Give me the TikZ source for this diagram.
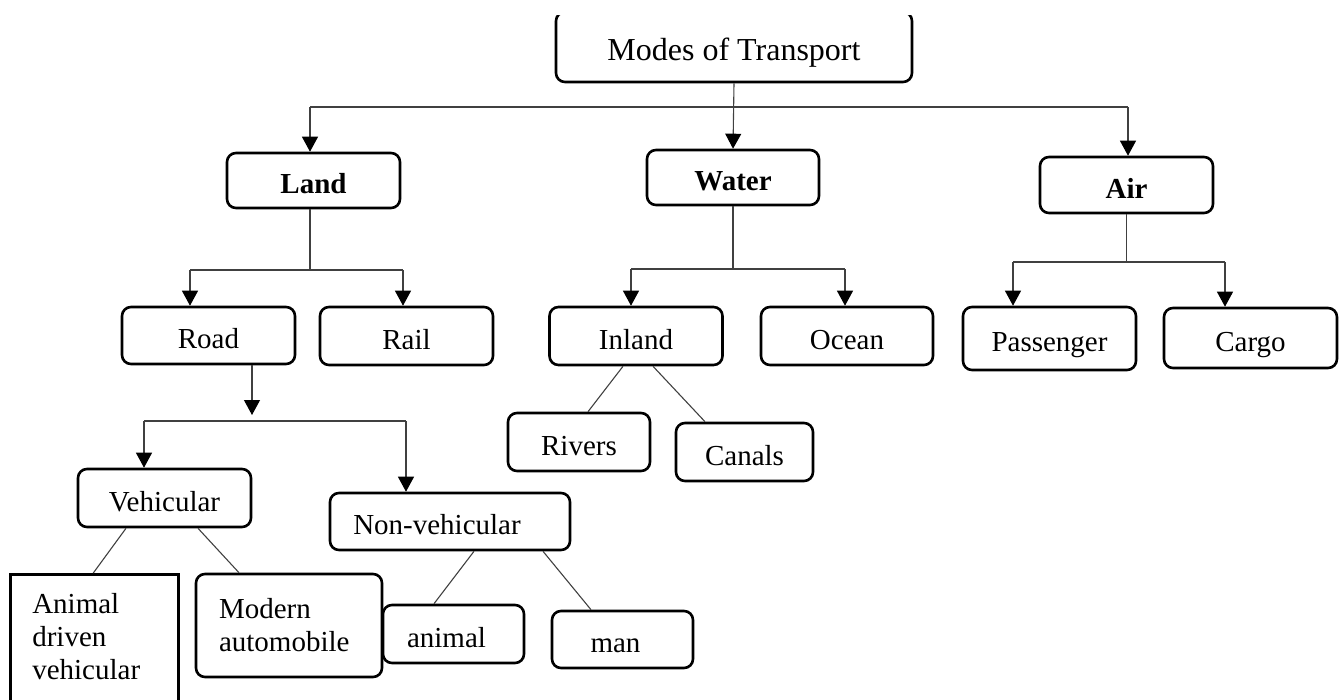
\documentclass[tikz,border=0pt]{standalone}
\usepackage{fontspec}
\setmainfont{Liberation Serif}
\usetikzlibrary{arrows.meta}
\tikzset{
  frame/.style={draw, line width=2.6pt, rounded corners=9pt, inner sep=0pt, font=\fontsize{29}{33}\selectfont},
  box/.style={frame, text height=26pt, text depth=0pt},
  hd/.style={box, font=\fontsize{29}{33}\selectfont\bfseries},
  ln/.style={line width=1.1pt, draw=black!75},
  arr/.style={ln, -{Triangle[width=16pt,length=15pt,color=black]}}
}

\begin{document}
\begin{tikzpicture}[x=1pt, y=-1pt]
        \useasboundingbox (0, 0) rectangle (1341, 699);
        \clip (0, 15) rectangle (1341, 699);
        \node [box, minimum width=356pt, minimum height=70pt, font=\fontsize{32}{37}\selectfont] (MT) at (734, 47) {Modes of Transport};
        \node [hd, minimum width=173pt, minimum height=55pt] (LD) at (313.5, 180.5) {Land};
        \node [hd, minimum width=172pt, minimum height=55pt] (WT) at (733, 177.5) {Water};
        \node [hd, minimum width=173pt, minimum height=56pt] (AR) at (1126.5, 185) {Air};
        \node [box, minimum width=173pt, minimum height=57pt] (RD) at (208.5, 335.5) {Road};
        \node [box, minimum width=173pt, minimum height=58pt] (RL) at (406.5, 336) {Rail};
        \node [box, minimum width=173pt, minimum height=58pt] (IN) at (636, 336) {Inland};
        \node [box, minimum width=172pt, minimum height=58pt] (OC) at (847, 336) {Ocean};
        \node [box, minimum width=173pt, minimum height=63pt] (PS) at (1049.5, 338.5) {Passenger};
        \node [box, minimum width=173pt, minimum height=60pt] (CG) at (1250.5, 338) {Cargo};
        \node [box, minimum width=142pt, minimum height=58pt] (RV) at (579, 442) {Rivers};
        \node [box, minimum width=137pt, minimum height=58pt] (CN) at (744.5, 452) {Canals};
        \node [box, minimum width=173pt, minimum height=58pt] (VH) at (164.5, 498) {Vehicular};
        \node [box, minimum width=240pt, minimum height=57pt] (NV) at (450, 521.5) {Non-vehicular\kern26pt};
        \node [frame, rounded corners=0pt, anchor=north west, align=left, text width=124pt, inner xsep=22pt, inner ysep=19pt] (AD) at (9, 573) {Animal\\driven\\vehicular\\ \rule{0pt}{40pt}};
        \node [frame, minimum width=186pt, minimum height=103pt, align=left, text width=140pt] (MA) at (289, 625.5) {Modern\\automobile};
        \node [box, minimum width=141pt, minimum height=58pt] (AN) at (453.5, 634) {animal\kern14pt};
        \node [box, minimum width=141pt, minimum height=57pt] (MN) at (622.5, 639.5) {man\kern14pt};

        \coordinate (TL) at (310, 107);
        \coordinate (TR) at (1128, 107);
        \draw [ln] (TL) -- (TR);
        \draw [arr] (MT.south) -- (WT.north);
        \draw [arr] (TL) -- (TL |- LD.north);
        \draw [arr] (TR) -- (TR |- AR.north);

        \coordinate (LJ) at (310, 270);
        \coordinate (LL) at (190, 270);
        \coordinate (LR) at (403, 270);
        \draw [ln] (LD.south -| LJ) -- (LJ);
        \draw [ln] (LL) -- (LR);
        \draw [arr] (LL) -- (LL |- RD.north);
        \draw [arr] (LR) -- (LR |- RL.north);

        \coordinate (WL) at (631, 269);
        \coordinate (WR) at (845, 269);
        \draw [ln] (WT.south) -- (WT.south |- WL);
        \draw [ln] (WL) -- (WR);
        \draw [arr] (WL) -- (WL |- IN.north);
        \draw [arr] (WR) -- (WR |- OC.north);

        \coordinate (AL) at (1013, 262);
        \coordinate (AR2) at (1225, 262);
        \draw [ln] (AR.south) -- (AR.south |- AL);
        \draw [ln] (AL) -- (AR2);
        \draw [arr] (AL) -- (AL |- PS.north);
        \draw [arr] (AR2) -- (AR2 |- CG.north);

        \coordinate (RJ) at (252, 415);
        \coordinate (RLf) at (144, 421);
        \coordinate (RRt) at (406, 421);
        \draw [arr] (RD.south -| RJ) -- (RJ);
        \draw [ln] (RLf) -- (RRt);
        \draw [arr] (RLf) -- (RLf |- VH.north);
        \draw [arr] (RRt) -- (RRt |- NV.north);

        \draw [ln] ([xshift=-13pt]IN.south) -- ([xshift=9pt]RV.north);
        \draw [ln] ([xshift=17pt]IN.south) -- ([xshift=-39.5pt]CN.north);
        \draw [ln] ([xshift=-38.5pt]VH.south) -- ([xshift=-1pt]AD.north);
        \draw [ln] ([xshift=33.5pt]VH.south) -- ([xshift=-50pt]MA.north);
        \draw [ln] ([xshift=24pt]NV.south) -- ([xshift=-19.5pt]AN.north);
        \draw [ln] ([xshift=93pt]NV.south) -- ([xshift=-31.5pt]MN.north);
\end{tikzpicture}
\end{document}
